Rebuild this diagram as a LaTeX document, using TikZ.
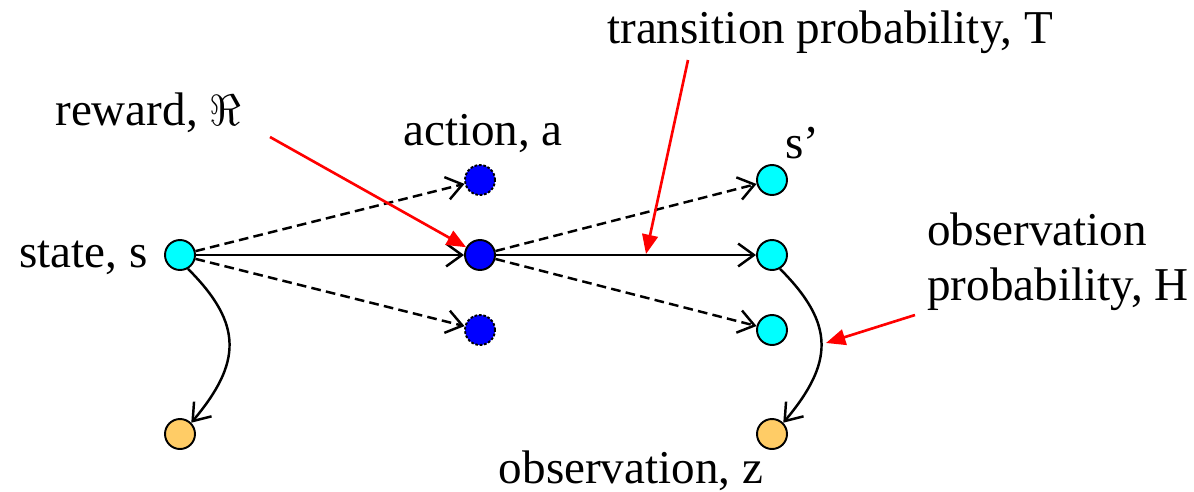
\documentclass[tikz,border=0pt]{standalone}
\usepackage{fontspec}
\setmainfont{Liberation Serif}
\usetikzlibrary{arrows.meta, positioning}
\definecolor{statecol}{HTML}{00FFFF}
\definecolor{actcol}{HTML}{0000FF}
\definecolor{obscol}{HTML}{FFCC66}

\begin{document}
\begin{tikzpicture}[
    x=0.02cm, y=-0.02cm,
    dot/.style={circle, draw, line width=1.1pt, minimum size=0.6cm, inner sep=0pt},
    st/.style={dot, fill=statecol},
    act/.style={dot, fill=actcol},
    maybe/.style={dash pattern=on 1.5pt off 1pt},
    obs/.style={dot, fill=obscol},
    lbl/.style={font=\fontsize{26.8}{31}\selectfont, inner sep=0pt, align=left},
    arr/.style={-{Straight Barb[length=9pt, width=13pt]}, line width=1.4pt},
    alt/.style={arr, dash pattern=on 5.5pt off 3pt},
    hint/.style={-{Triangle[length=11pt, width=9pt]}, red, line width=1.5pt}
]
\useasboundingbox (0,0) rectangle (1194,491);

% states, actions, next states, observations
\node (s)  [st]  at (180,255) {};
\node (a1) [act, maybe] at (480,180) {};
\node (a2) [act] at (480,255) {};
\node (a3) [act, maybe] at (480,330) {};
\node (n1) [st]  at (772,180) {};
\node (n2) [st]  at (772,255) {};
\node (n3) [st]  at (772,330) {};
\node (z1) [obs] at (180,434) {};
\node (z2) [obs] at (772,434) {};

% labels
\node (ls)  [lbl, anchor=base east] at (148,267) {state, s};
\node (la)  [lbl, anchor=base] at (483,145) {action, a};
\node (ln)  [lbl, anchor=base west] at (785,158) {s’};
\node (lr)  [lbl, anchor=base west] at (55,125) {reward, $\Re$};
\node (lt)  [lbl, anchor=base] at (830,43) {transition probability, T};
\node (lh)  [lbl, anchor=base west] at (927,300) {observation\\probability, H};
\node (lz)  [lbl, anchor=base] at (631,483) {observation, z};

% transitions
\draw[alt] (s) -- (a1);
\draw[arr] (s) -- (a2);
\draw[alt] (s) -- (a3);
\draw[alt] (a2) -- (n1);
\draw[arr] (a2) -- (n2);
\draw[alt] (a2) -- (n3);
\draw[arr] (s.-60) to[out=-45, in=50, looseness=1.3] (z1.45);
\draw[arr] (n2.-60) to[out=-45, in=50, looseness=1.3] (z2.45);

% pointers
\coordinate (rw) at (270,137);
\coordinate (tp) at (688,60);
\coordinate (tq) at (646,254);
\coordinate (op) at (915,315);
\coordinate (oq) at (826,343);
\draw[hint] (rw) -- (a2);
\draw[hint] (tp) -- (tq);
\draw[hint] (op) -- (oq);
\end{tikzpicture}
\end{document}
